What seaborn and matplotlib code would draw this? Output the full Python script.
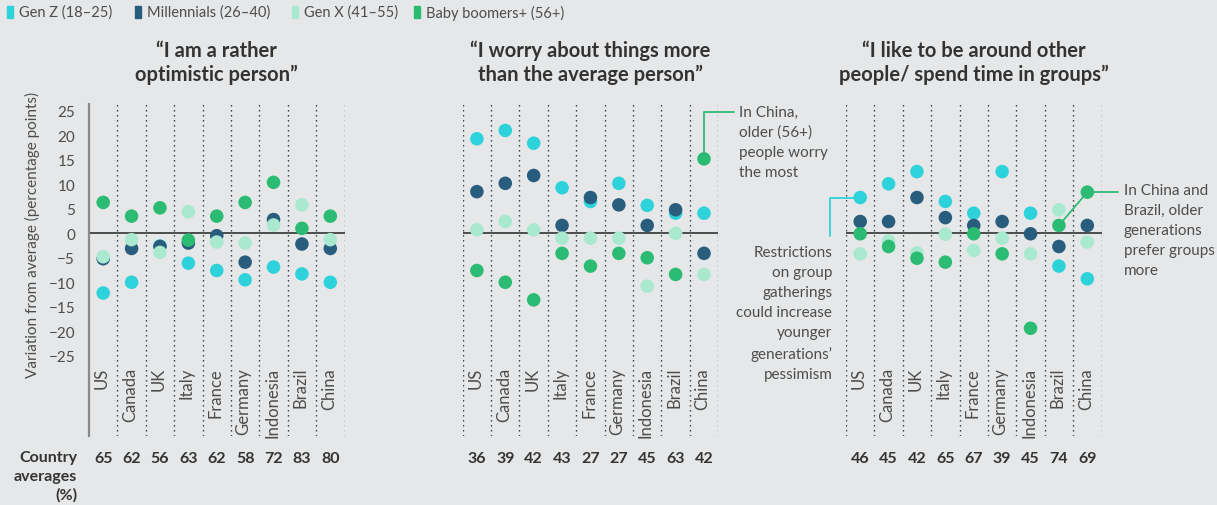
import numpy as np
import pandas as pd
import matplotlib
matplotlib.use("Agg")
import matplotlib.pyplot as plt
from matplotlib.patches import Rectangle
import seaborn as sns

COUNTRIES = ["US", "Canada", "UK", "Italy", "France", "Germany", "Indonesia", "Brazil", "China"]
GENERATIONS = ["Gen Z (18–25)", "Millennials (26–40)", "Gen X (41–55)", "Baby boomers+ (56+)"]
GEN_COLORS = ["#2dd2db", "#285d7e", "#a8e9cf", "#2bbb73"]

TITLES = [
    "“I am a rather\noptimistic person”",
    "“I worry about things more\nthan the average person”",
    "“I like to be around other\npeople/ spend time in groups”",
]

# panel 1: optimism
optimistic_genz = [-12.2, -10.0, -2.6, -6.1, -7.6, -9.5, -6.9, -8.3, -10.0]
optimistic_millennials = [-5.2, -3.1, -2.7, -2.0, -0.5, -5.9, 2.8, -2.2, -3.1]
optimistic_genx = [-4.8, -1.3, -3.9, 4.4, -1.8, -2.0, 1.7, 5.8, -1.3]
optimistic_boomers = [6.3, 3.5, 5.2, -1.4, 3.5, 6.3, 10.4, 1.0, 3.5]
optimistic_avg = [65, 62, 56, 63, 62, 58, 72, 83, 80]

# panel 2: worry
worry_genz = [19.3, 21.0, 18.4, 9.3, 6.5, 10.2, 5.7, 4.1, 4.1]
worry_millennials = [8.5, 10.2, 11.8, 1.6, 7.3, 5.8, 1.6, 4.8, -4.1]
worry_genx = [0.7, 2.4, 0.7, -1.0, -1.0, -1.0, -10.8, 0.0, -8.4]
worry_boomers = [-7.6, -10.0, -13.6, -4.1, -6.7, -4.1, -5.0, -8.4, 15.2]
worry_avg = [36, 39, 42, 43, 27, 27, 45, 63, 42]

# panel 3: groups
groups_genz = [7.3, 10.1, 12.6, 6.5, 4.1, 12.6, 4.1, -6.7, -9.3]
groups_millennials = [2.4, 2.4, 7.3, 3.2, 1.6, 2.4, -0.1, -2.7, 1.6]
groups_genx = [-4.2, -1.6, -4.0, -0.2, -3.5, -1.0, -4.2, 4.8, -1.8]
groups_boomers = [-0.1, -2.7, -5.1, -5.9, -0.1, -4.2, -19.4, 1.6, 8.4]
groups_avg = [46, 45, 42, 65, 67, 39, 45, 74, 69]

Y_TICKS = [25, 20, 15, 10, 5, 0, -5, -10, -15, -20, -25]

BG = "#e6e7e8"
TEXT = "#4d4d4d"
DARK_TEXT = "#333333"


def long_frame(genz, mill, genx, boom):
    rows = []
    for gen, vals in zip(GENERATIONS, [genz, mill, genx, boom]):
        for i, (c, v) in enumerate(zip(COUNTRIES, vals)):
            rows.append({"country": c, "pos": i, "generation": gen, "value": v})
    return pd.DataFrame(rows)


def draw_panel(ax, df, averages, first=False):
    ax.set_facecolor(BG)
    sns.scatterplot(
        data=df, x="pos", y="value", hue="generation", hue_order=GENERATIONS,
        palette=GEN_COLORS, s=95, linewidth=0, alpha=1, legend=False, ax=ax, zorder=3,
    )
    ax.set_xlim(-0.5, 8.5)
    ax.set_ylim(-41.4, 26.4)
    ax.axhline(0, xmin=0, xmax=1, color="#222222", lw=1.1, zorder=2)
    start = 0 if first else -1
    for k in range(start, len(COUNTRIES)):
        ax.axvline(k + 0.5, color="#333333", lw=1.0, ls=(0, (1, 2.6)), zorder=1)
    for i, c in enumerate(COUNTRIES):
        ax.text(i - 0.05, -27.3, c, rotation=90, ha="center", va="top",
                fontsize=12, color=TEXT)
        ax.text(i, -45.8, str(averages[i]), ha="center", va="center",
                fontsize=11.5, fontweight="bold", color=DARK_TEXT, clip_on=False)
    for s in ["top", "right", "bottom"]:
        ax.spines[s].set_visible(False)
    ax.set_xticks([])
    ax.set_xlabel("")
    ax.set_ylabel("")
    if first:
        ax.spines["left"].set_color("#8a8a8a")
        ax.spines["left"].set_linewidth(1.6)
        ax.set_yticks(Y_TICKS)
        ax.tick_params(axis="y", length=0, pad=10, labelsize=11, labelcolor=TEXT)
        ax.set_ylabel("Variation from average (percentage points)", fontsize=11,
                      color=TEXT, labelpad=6)
        ax.yaxis.set_label_coords(-0.19, 0.61)
    else:
        ax.spines["left"].set_visible(False)
        ax.set_yticks([])


def main():
    sns.set_theme(style="white")
    plt.rcParams["font.family"] = ["Lato", "DejaVu Sans"]

    fig = plt.figure(figsize=(12.17, 5.06), dpi=100)
    fig.patch.set_facecolor(BG)

    lefts = [89 / 1217, 462.7 / 1217, 846 / 1217]
    width = 255.5 / 1217
    bottom = 1 - 437 / 506
    height = 332 / 506

    frames = [
        long_frame(optimistic_genz, optimistic_millennials, optimistic_genx, optimistic_boomers),
        long_frame(worry_genz, worry_millennials, worry_genx, worry_boomers),
        long_frame(groups_genz, groups_millennials, groups_genx, groups_boomers),
    ]
    avgs = [optimistic_avg, worry_avg, groups_avg]

    axes = []
    for k in range(3):
        ax = fig.add_axes([lefts[k], bottom, width, height])
        draw_panel(ax, frames[k], avgs[k], first=(k == 0))
        ax.text(4, 35.0, TITLES[k], ha="center", va="center", fontsize=14.5,
                fontweight="bold", color=DARK_TEXT, linespacing=1.25, clip_on=False)
        axes.append(ax)

    # country averages label
    axes[0].text(-0.92, -49.6, "Country\naverages\n(%)", ha="right", va="center",
                 fontsize=11.5, fontweight="bold", color=DARK_TEXT, linespacing=1.4,
                 clip_on=False)

    # annotation: China worry
    ax2 = axes[1]
    ax2.plot([8, 8, 9.04], [15.2, 24.8, 24.8], color=GEN_COLORS[3], lw=1.3,
             clip_on=False, zorder=2)
    ax2.text(9.22, 26.3, "In China,\nolder (56+)\npeople worry\nthe most", ha="left",
             va="top", fontsize=11, color=TEXT, linespacing=1.55, clip_on=False)
    ax2.text(12.52, -2.4, "Restrictions\non group\ngatherings\ncould increase\nyounger\n"
             "generations’\npessimism", ha="right", va="top", fontsize=11, color=TEXT,
             linespacing=1.55, clip_on=False)

    # annotation: restrictions line (cyan)
    ax3 = axes[2]
    ax3.plot([0, -1.06, -1.06], [7.3, 7.3, -0.55], color=GEN_COLORS[0], lw=1.3,
             clip_on=False, zorder=2)

    # annotation: China and Brazil groups
    ax3.plot([7, 8], [1.6, 8.4], color=GEN_COLORS[3], lw=1.3, zorder=2)
    ax3.plot([8, 9.08], [8.4, 8.4], color=GEN_COLORS[3], lw=1.3, clip_on=False, zorder=2)
    ax3.text(9.29, 10.3, "In China and\nBrazil, older\ngenerations\nprefer groups\nmore",
             ha="left", va="top", fontsize=11, color=TEXT, linespacing=1.55, clip_on=False)

    # legend along the top
    legend_x = [7, 135, 292, 414]
    for gx, gen, col in zip(legend_x, GENERATIONS, GEN_COLORS):
        fig.patches.append(Rectangle((gx / 1217, 1 - 19 / 506), 6 / 1217, 12 / 506,
                                     transform=fig.transFigure, color=col, figure=fig))
        fig.text((gx + 12) / 1217, 1 - 13 / 506, gen, ha="left", va="center",
                 fontsize=10.5, color=TEXT)

    fig.savefig("out.png", dpi=100, facecolor=BG)
    plt.close(fig)


if __name__ == "__main__":
    main()
